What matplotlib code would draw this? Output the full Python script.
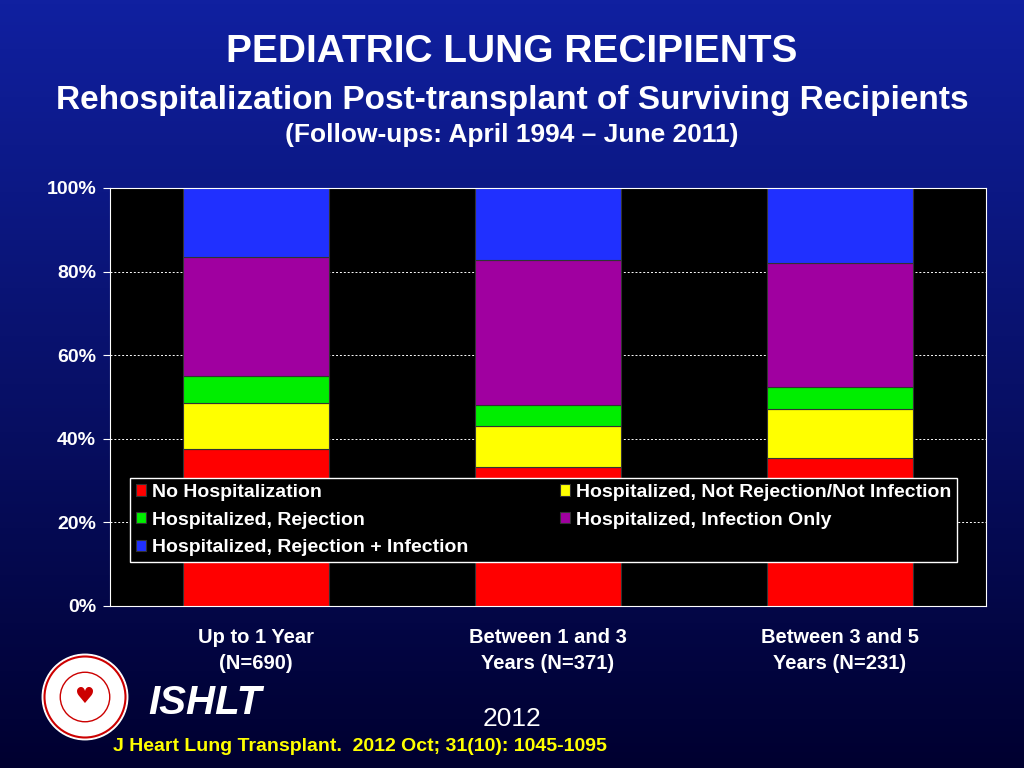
import numpy as np
import matplotlib
matplotlib.use("Agg")
import matplotlib.pyplot as plt
from matplotlib.colors import LinearSegmentedColormap
plt.rcParams["font.family"] = "Liberation Sans"

categories = ["Up to 1 Year\n(N=690)", "Between 1 and 3\nYears (N=371)", "Between 3 and 5\nYears (N=231)"]
series_names = ["No Hospitalization", "Hospitalized, Not Rejection/Not Infection",
                "Hospitalized, Rejection", "Hospitalized, Infection Only",
                "Hospitalized, Rejection + Infection"]
no_hosp = [37.6, 33.3, 35.4]
not_rej_inf = [11.0, 9.8, 11.7]
rejection = [6.4, 5.0, 5.3]
infection = [28.5, 34.7, 29.7]
rej_inf = [16.5, 17.2, 17.9]
colors = ["#ff0000", "#ffff00", "#00ee00", "#a000a0", "#2030ff"]
yticks = [0, 20, 40, 60, 80, 100]

fig = plt.figure(figsize=(10.24, 7.68), dpi=100)
bg = fig.add_axes([0, 0, 1, 1])
grad = np.linspace(0, 1, 256).reshape(-1, 1)
cm = LinearSegmentedColormap.from_list("b", ["#1020a0", "#000030"])
bg.imshow(grad, aspect="auto", cmap=cm, extent=[0, 1, 0, 1], origin="upper")
bg.axis("off")

fig.text(0.5, 1-52/768, "PEDIATRIC LUNG RECIPIENTS", ha="center", va="center", color="white", fontsize=28, fontweight="bold")
fig.text(0.5, 1-100/768, "Rehospitalization Post-transplant of Surviving Recipients", ha="center", va="center", color="white", fontsize=24, fontweight="bold")
fig.text(0.5, 1-135/768, "(Follow-ups: April 1994 \u2013 June 2011)", ha="center", va="center", color="white", fontsize=19, fontweight="bold")

ax = fig.add_axes([110/1024, 1-606/768, 876/1024, 418/768])
ax.set_facecolor("black")
x = np.arange(3)
data = [no_hosp, not_rej_inf, rejection, infection, rej_inf]
bottom = np.zeros(3)
handles = []
for vals, c, n in zip(data, colors, series_names):
    h = ax.bar(x, vals, bottom=bottom, width=0.5, color=c, edgecolor="#333333", linewidth=0.8, label=n)
    handles.append(h)
    bottom += np.array(vals)
ax.set_xlim(-0.5, 2.5)
ax.set_ylim(0, 100)
ax.set_yticks(yticks)
ax.set_yticklabels([f"{t}%" for t in yticks], color="white", fontsize=14, fontweight="bold")
ax.yaxis.grid(True, color="white", linestyle=(0, (2, 2)), linewidth=0.7)
ax.set_axisbelow(True)
ax.set_xticks(x)
ax.set_xticklabels(categories, color="white", fontsize=14.5, fontweight="bold", linespacing=1.45)
ax.tick_params(axis="x", length=0, pad=16)
ax.tick_params(axis="y", colors="white", length=5, pad=5)
for s in ax.spines.values():
    s.set_color("white")
order = [0, 2, 4, 1, 3]
leg = ax.legend([handles[i] for i in order], [series_names[i] for i in order],
                loc="upper left", bbox_to_anchor=(0.023, 0.093, 0.944, 0.213), mode="expand",
                ncol=2, fontsize=14, facecolor="black", edgecolor="white", framealpha=1,
                handlelength=0.5, handleheight=0.5, handletextpad=0.3, borderaxespad=0,
                borderpad=0.3, labelspacing=0.55, fancybox=False)
for t in leg.get_texts():
    t.set_color("white"); t.set_fontweight("bold")

lg = fig.add_axes([40/1024, 1-742/768, 90/1024, 90/768])
lg.set_xlim(-1, 1); lg.set_ylim(-1, 1); lg.set_aspect("equal"); lg.axis("off")
lg.add_patch(plt.Circle((0, 0), 0.95, color="white"))
lg.add_patch(plt.Circle((0, 0), 0.9, fill=False, color="#cc0000", lw=1.5))
lg.add_patch(plt.Circle((0, 0), 0.55, fill=False, color="#cc0000", lw=1))
lg.text(0, 0, "\u2665", color="#cc0000", ha="center", va="center", fontsize=16, family="DejaVu Sans")

fig.text(148/1024, 1-714/768, "ISHLT", color="white", fontsize=29, fontweight="bold", style="italic")
fig.text(512/1024, 1-726/768, "2012", color="white", fontsize=19, ha="center")
fig.text(113/1024, 1-751/768, "J Heart Lung Transplant.  2012 Oct; 31(10): 1045-1095", color="#ffff00", fontsize=14, fontweight="bold")

fig.savefig("out.png", dpi=100)
